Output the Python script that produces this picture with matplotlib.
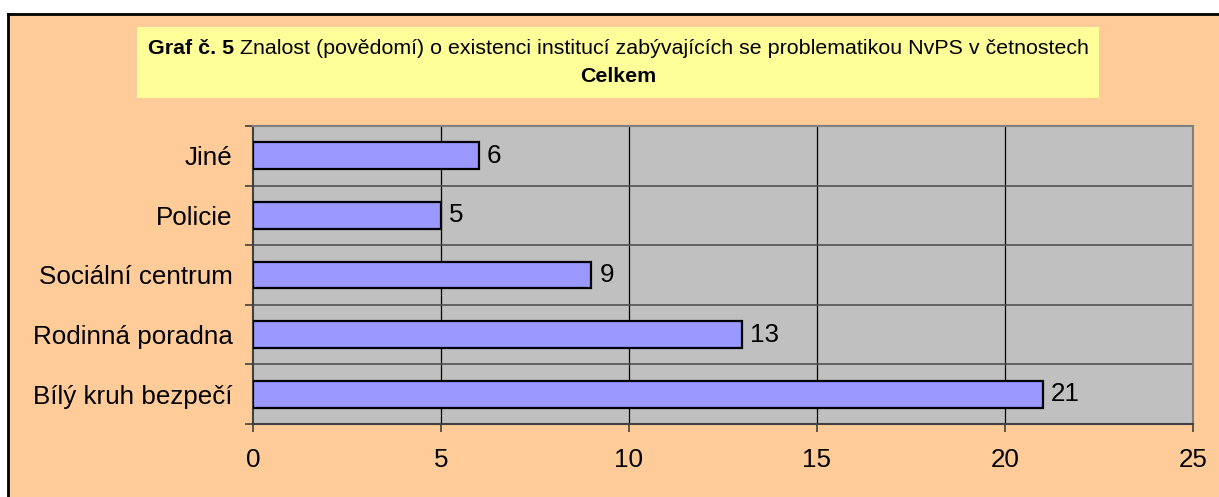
import matplotlib
matplotlib.use("Agg")
import matplotlib.pyplot as plt
from matplotlib.patches import Rectangle
from matplotlib.lines import Line2D
import numpy as np

categories = ["Bílý kruh bezpečí", "Rodinná poradna", "Sociální centrum", "Policie", "Jiné"]
values = [21, 13, 9, 5, 6]
xticks = [0, 5, 10, 15, 20, 25]
title_bold = "Graf č. 5"
title_rest = " Znalost (povědomí) o existenci institucí zabývajících se problematikou NvPS v četnostech"
title_line2 = "Celkem"

W, H = 1219, 497
plt.rcParams['font.family'] = ['Liberation Sans', 'DejaVu Sans']
fig = plt.figure(figsize=(W / 100, H / 100), dpi=100)
fig.patch.set_facecolor("white")

def fx(px): return px / W
def fy(py): return 1 - py / H

# background frame
fig.patches.append(Rectangle((fx(7), 0), 1 - fx(7), fy(13), transform=fig.transFigure,
                             facecolor="#FFCC99", edgecolor="none", zorder=-10))
fig.lines.append(Line2D([fx(7.5), fx(7.5)], [0, fy(13.5)], transform=fig.transFigure, color="black", lw=2, zorder=-9))
fig.lines.append(Line2D([fx(7.5), 1], [fy(13.5), fy(13.5)], transform=fig.transFigure, color="black", lw=2, zorder=-9))

# title box
fig.patches.append(Rectangle((fx(137), fy(98)), fx(1099) - fx(137), fy(27) - fy(98), transform=fig.transFigure,
                             facecolor="#FFFF99", edgecolor="none", zorder=-8))

fs = 18.7
ax = fig.add_axes([fx(253), fy(424), fx(1193) - fx(253), fy(126) - fy(424)])
ax.set_zorder(5)
ax.set_facecolor("#C0C0C0")
y = np.arange(len(categories))
ax.barh(y, values, height=0.45, color="#9999FF", edgecolor="black", linewidth=1.6, zorder=3)
for yi, v in zip(y, values):
    ax.text(v + 0.22, yi, str(v), va="center", ha="left", fontsize=fs, zorder=4)

ax.set_xlim(0, 25)
ax.set_ylim(-0.5, len(categories) - 0.5)
ax.set_xticks(xticks)
ax.set_xticklabels([str(t) for t in xticks], fontsize=fs)
ax.set_yticks(y)
ax.set_yticklabels(categories, fontsize=fs)
ax.tick_params(axis="y", length=0, pad=14.5)
ax.set_yticks(np.arange(len(categories) + 1) - 0.5, minor=True)
ax.tick_params(axis="y", which="minor", length=6, color="#404040", width=1.2, direction="out")
ax.tick_params(axis="x", length=6, color="#404040", width=1.2, direction="out", pad=11.5)
for xv in xticks[1:-1]:
    ax.axvline(xv, color="black", lw=0.9, zorder=2)
for yb in np.arange(1, len(categories)) - 0.5:
    ax.axhline(yb, color="#505050", lw=1.2, zorder=2)
for s in ax.spines.values():
    s.set_color("#808080")
    s.set_linewidth(1.5)
ax.spines["left"].set_color("#404040")
ax.spines["bottom"].set_color("#404040")

# title with mixed weights
fig.canvas.draw()
r = fig.canvas.get_renderer()
tfs = 15.4
t1 = fig.text(0, fy(49), title_bold, fontsize=tfs, fontweight="bold", va="center", ha="left")
t2 = fig.text(0, fy(49), title_rest, fontsize=tfs, va="center", ha="left")
w1 = t1.get_window_extent(r).width
w2 = t2.get_window_extent(r).width
cx = (137 + 1099) / 2
start = cx - (w1 + w2) / 2
t1.set_x(start / W)
t2.set_x((start + w1) / W)
fig.text(fx(cx), fy(76), title_line2, fontsize=tfs, fontweight="bold", va="center", ha="center")

fig.savefig("out.png", dpi=100, facecolor=fig.get_facecolor())
